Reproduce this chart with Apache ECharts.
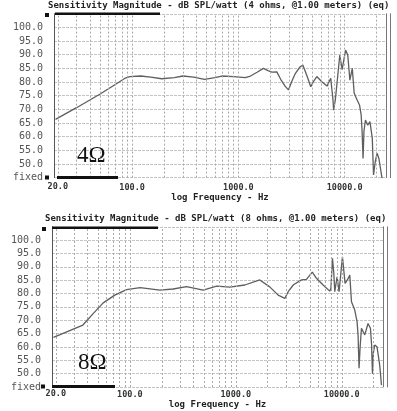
<!DOCTYPE html>
<html><head><meta charset="utf-8">
<script src="https://cdn.jsdelivr.net/npm/echarts@6/dist/echarts.min.js"></script>
<style>html,body{margin:0;padding:0;background:#fff}#c{width:397px;height:411px}</style>
</head><body><div id="c"></div><script>
// ---- data ----
const freq4 = [19, 30, 50, 70, 85, 95, 120, 150, 190, 250, 300, 380, 480, 600, 700, 900, 1160, 1300, 1500, 1720, 1900, 2070, 2300, 2500, 2750, 2960, 3200, 3440, 3800, 4040, 4400, 4800, 5100, 5470, 6100, 6820, 7400, 7600, 7750, 7880, 8050, 8170, 8600, 9000, 9470, 10200, 10700, 11200, 11800, 12300, 13100, 13800, 14300, 14600, 14900, 15200, 15700, 16500, 17300, 18200, 18700, 19400, 20200, 21000, 22500];
const spl4 = [66.3, 70.6, 75.6, 79.2, 81.3, 82.0, 82.2, 81.8, 81.2, 81.6, 82.2, 81.8, 81.0, 81.6, 82.2, 82.0, 81.6, 82.2, 83.6, 85.0, 84.2, 83.6, 83.7, 81.0, 78.5, 77.1, 80.5, 83.2, 85.5, 86.2, 82.5, 78.3, 80.2, 82.0, 80.1, 78.5, 81.4, 77.0, 74.0, 69.7, 72.0, 73.4, 82.0, 89.9, 84.5, 91.7, 89.9, 80.7, 85.0, 75.9, 73.4, 71.6, 68.0, 61.8, 52.0, 62.0, 66.1, 64.2, 65.5, 59.4, 46.0, 50.8, 53.9, 52.0, 44.7];
const freq8 = [19, 36, 45, 56, 72, 93, 125, 192, 256, 343, 492, 658, 877, 1216, 1683, 2090, 2510, 2900, 3120, 3500, 4170, 4640, 5270, 5770, 6670, 7700, 7900, 8170, 8400, 8590, 9030, 9430, 10150, 10740, 11300, 11900, 12350, 13260, 13950, 14250, 14560, 14900, 15340, 16490, 17700, 18650, 19100, 19480, 19900, 20470, 21500, 22800, 23700];
const spl8 = [63.6, 68.2, 72.5, 76.5, 79.4, 81.5, 82.2, 81.3, 81.7, 82.6, 81.3, 82.8, 82.4, 83.2, 85.1, 82.5, 79.4, 78.2, 80.7, 83.3, 85.1, 85.3, 88.0, 85.7, 83.2, 80.9, 82.0, 93.2, 88.0, 80.7, 86.3, 80.7, 93.8, 83.8, 85.1, 86.9, 76.9, 73.8, 69.4, 64.5, 52.0, 60.0, 67.0, 64.5, 68.8, 67.0, 61.0, 50.0, 58.0, 60.7, 60.1, 53.2, 45.7];
const gridFreqs = [20,30,40,50,60,70,80,90,100,200,300,400,500,600,700,800,900,1000,2000,3000,4000,5000,6000,7000,8000,9000,10000,20000];
const xTickValues = [20, 100, 1000, 10000];
const xTickLabels = ['20.0', '100.0', '1000.0', '10000.0'];
const yMin = 45, yMax = 105, yStep = 5;
const yBottomLabel = 'fixed';
const titles = ['Sensitivity Magnitude - dB SPL/watt (4 ohms, @1.00 meters) (eq)',
                'Sensitivity Magnitude - dB SPL/watt (8 ohms, @1.00 meters) (eq)'];
const xAxisTitle = 'log Frequency - Hz';
const ohmLabels = ['4\u03A9', '8\u03A9'];
const xMin = 18.4, xMax = 24500;

// ---- chart ----
const mono = 'DejaVu Sans Mono';
const grids = [
  {left: 54, top: 13.75, width: 332, height: 163.85},
  {left: 52, top: 226.8, width: 331, height: 160.2}
];
const labelMargins = [5.5, 3];
const nameGaps = [15, 11.5];
const xLabelStyle = {color: '#333', fontFamily: mono, fontSize: 8.5, fontWeight: 'bold'};
const tickText = v => { const k = xTickValues.findIndex(t => Math.abs(t - v) / t < 1e-6); return k >= 0 ? xTickLabels[k] : ''; };

const xAxes = [], yAxes = [], series = [];
[0, 1].forEach(i => {
  xAxes.push({
    type: 'log', gridIndex: i, min: xMin, max: xMax, logBase: 10,
    axisLine: {show: false}, axisTick: {show: false}, splitLine: {show: false},
    axisLabel: Object.assign({
      show: true, margin: labelMargins[i],
      showMinLabel: false, showMaxLabel: false,
      formatter: tickText
    }, xLabelStyle),
    name: xAxisTitle, nameLocation: 'middle', nameGap: nameGaps[i],
    nameTextStyle: {fontFamily: mono, fontSize: 9, fontWeight: 'bold', color: '#222'}
  });
  yAxes.push({
    type: 'value', gridIndex: i, min: yMin, max: yMax, interval: yStep,
    axisLine: {show: true, lineStyle: {color: '#555', width: 1}},
    axisTick: {show: false},
    axisLabel: {
      margin: 11, color: '#555', fontFamily: mono, fontSize: 10, fontWeight: 'normal',
      formatter: v => v === yMin ? yBottomLabel : (v === yMax ? '' : v.toFixed(1))
    },
    splitLine: {show: true, lineStyle: {color: '#c4c4c4', type: [3, 1], width: 1}}
  });
  [0, 4].forEach(off => yAxes.push({
    type: 'value', gridIndex: i, position: 'right', offset: off, min: yMin, max: yMax,
    axisLine: {show: true, lineStyle: {color: '#777', width: 1}},
    axisTick: {show: false}, axisLabel: {show: false}, splitLine: {show: false}
  }));
});

// vertical grid lines through the log scale; the lowest tick (not a power of ten) gets its label here
[0, 1].forEach(i => {
  series.push({
    type: 'line', xAxisIndex: i, yAxisIndex: i * 3, data: [], z: 1, silent: true,
    markLine: {
      silent: true, symbol: ['none', 'none'], animation: false,
      label: {show: false},
      lineStyle: {color: '#aaa', type: [2, 2], width: 1},
      data: gridFreqs.map(f => {
        const item = {xAxis: f};
        if (f === xTickValues[0]) {
          item.label = Object.assign({show: true, position: 'start', distance: labelMargins[i] - 1,
            formatter: tickText(f)}, xLabelStyle);
        }
        return item;
      })
    }
  });
});
series.push({
  type: 'line', xAxisIndex: 0, yAxisIndex: 0, z: 3, showSymbol: false, animation: false,
  lineStyle: {color: '#5e5e5e', width: 1.3},
  data: freq4.map((f, k) => [f, spl4[k]])
});
series.push({
  type: 'line', xAxisIndex: 1, yAxisIndex: 3, z: 3, showSymbol: false, animation: false,
  lineStyle: {color: '#5e5e5e', width: 1.3},
  data: freq8.map((f, k) => [f, spl8[k]])
});

const titleTops = [1, 214.5];
const titleLefts = [48, 45];
const deco = [
  {type: 'rect', shape: {x: 55, y: 12.5, width: 105, height: 2.5}},
  {type: 'rect', shape: {x: 45, y: 13, width: 4, height: 4}},
  {type: 'rect', shape: {x: 57, y: 176, width: 61, height: 3}},
  {type: 'rect', shape: {x: 45, y: 175.5, width: 4, height: 4}},
  {type: 'rect', shape: {x: 52, y: 226.5, width: 106, height: 2.5}},
  {type: 'rect', shape: {x: 42, y: 227, width: 4, height: 4}},
  {type: 'rect', shape: {x: 52, y: 385, width: 63, height: 3}},
  {type: 'rect', shape: {x: 41, y: 384.5, width: 4, height: 4}}
].map(r => Object.assign(r, {z: 100, style: {fill: '#111'}})).concat([
  {type: 'text', z: 100, left: 77, top: 144, style: {text: ohmLabels[0], font: '23px "Liberation Serif"', fill: '#111'}},
  {type: 'text', z: 100, left: 78, top: 351, style: {text: ohmLabels[1], font: '23px "Liberation Serif"', fill: '#111'}}
]);

const chart = echarts.init(document.getElementById('c'), null, {renderer: 'canvas'});
chart.setOption({
  backgroundColor: '#fff',
  animation: false,
  title: titles.map((t, i) => ({
    text: t, left: titleLefts[i], top: titleTops[i], padding: 0,
    textStyle: {fontFamily: mono, fontSize: 9, fontWeight: 'bold', color: '#222'}
  })),
  grid: grids,
  xAxis: xAxes,
  yAxis: yAxes,
  series: series,
  graphic: deco
});
</script></body></html>
